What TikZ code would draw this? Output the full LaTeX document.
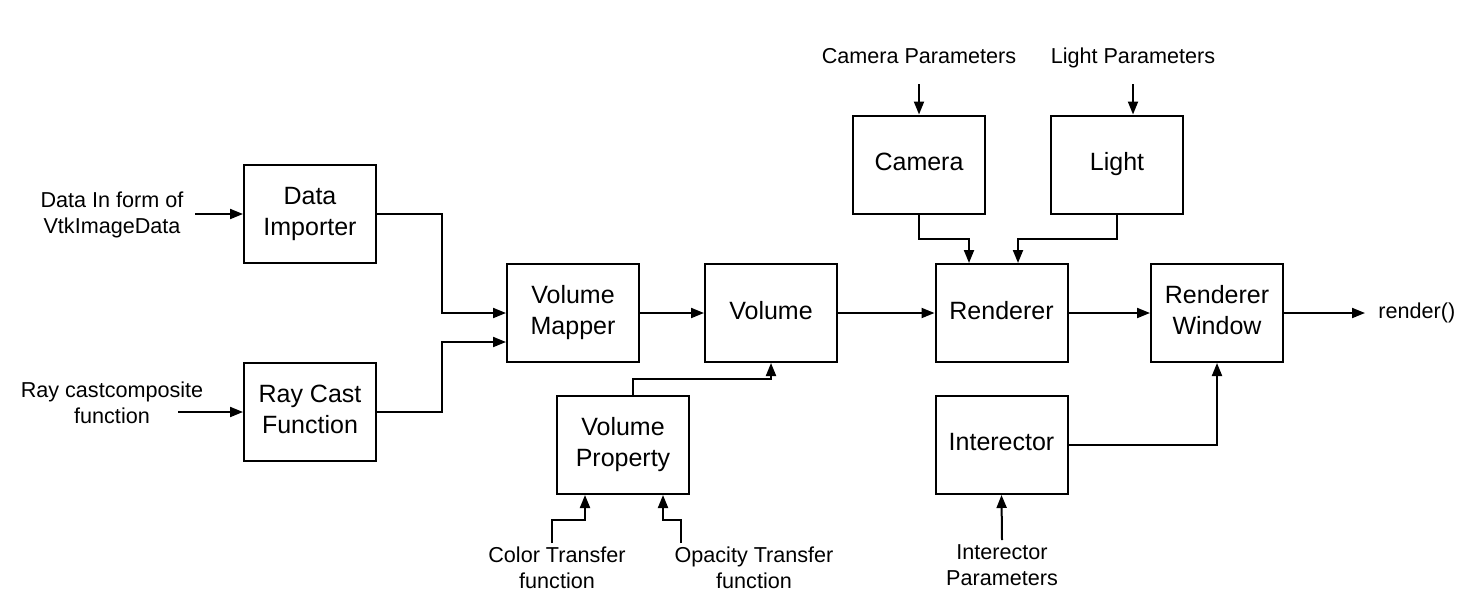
\documentclass[tikz,border=0pt]{standalone}
\usepackage{fontspec}
\setmainfont{Liberation Sans}
\usetikzlibrary{arrows.meta}
\begin{document}
\begin{tikzpicture}[x=0.5pt,y=-0.5pt,
  blk/.style={draw, line width=1pt, minimum width=66pt, minimum height=49pt, inner sep=0pt, text depth=3pt, align=center, font=\fontsize{12.5}{15.5}\selectfont},
  lbl/.style={align=center, inner sep=0pt, font=\fontsize{10.8}{13}\selectfont},
  conn/.style={line width=1pt, -{Triangle[length=6.5pt,width=5pt]}}]
\useasboundingbox (0,0) rectangle (1477,611);

% boxes
\node[blk] (imp) at (310,214) {Data\\Importer};
\node[blk] (ray) at (310,412) {Ray Cast\\Function};
\node[blk] (map) at (573,313) {Volume\\Mapper};
\node[blk] (vol) at (771,313) {Volume};
\node[blk] (vp)  at (623,445) {Volume\\Property};
\node[blk] (cam) at (919,164.5) {Camera};
\node[blk] (lig) at (1117,164.5) {Light};
\node[blk] (ren) at (1001.5,313) {Renderer};
\node[blk] (rw)  at (1217,313) {Renderer\\Window};
\node[blk] (int) at (1001.5,445) {Interector};

% labels
\node[lbl] (tdin) at (112,215) {Data In form of\\VtkImageData};
\node[lbl] (trc)  at (112,403) {Ray castcomposite\\function};
\node[lbl, anchor=base] (tcp) at (919,63) {Camera Parameters};
\node[lbl, anchor=base] (tlp) at (1133,63) {Light Parameters};
\node[lbl, anchor=base west] (trn) at (1378,318) {render()};
\node[lbl] (tct) at (557,568) {Color Transfer\\function};
\node[lbl] (tot) at (754,568) {Opacity Transfer\\function};
\node[lbl] (tip) at (1002,565) {Interector\\Parameters};

% free ends and joints
\coordinate (dinS) at (195,214);
\coordinate (rcS)  at (178,412);
\coordinate (jA) at (442,313);
\coordinate (jB) at (442,342);
\coordinate (jC) at (771,379);
\coordinate (ctS) at (552,543);
\coordinate (jD) at (585,520);
\coordinate (otS) at (681,543);
\coordinate (jE) at (663,520);
\coordinate (cpS) at (919,84);
\coordinate (lpS) at (1133,84);
\coordinate (jF) at (969,239);
\coordinate (jG) at (1018,239);
\coordinate (ipS) at (1002,540);
\coordinate (rE) at (1365,313);

% connectors
\draw[conn] (dinS) -- (imp.west);
\draw[conn] (rcS) -- (ray.west);
\draw[conn] (imp.east) -| (jA) -- (map.west);
\draw[conn] (ray.east) -| (jB) -- (jB -| map.west);
\draw[conn] (map.east) -- (vol.west);
\draw[conn] (vol.east) -- (ren.west);
\draw[conn] ([xshift=5pt]vp.north) |- (jC) -- (vol.south);
\draw[conn] (ctS) |- (jD) -- (jD |- vp.south);
\draw[conn] (otS) |- (jE) -- (jE |- vp.south);
\draw[conn] (cpS) -- (cam.north);
\draw[conn] (lpS) -- (lpS |- lig.north);
\draw[conn] (cam.south) |- (jF) -- (jF |- ren.north);
\draw[conn] (lig.south) |- (jG) -- (jG |- ren.north);
\draw[conn] (ren.east) -- (rw.west);
\draw[conn] (rw.east) -- (rE);
\draw[conn] (int.east) -| (rw.south);
\draw[conn] (ipS) -- (int.south);
\end{tikzpicture}
\end{document}
